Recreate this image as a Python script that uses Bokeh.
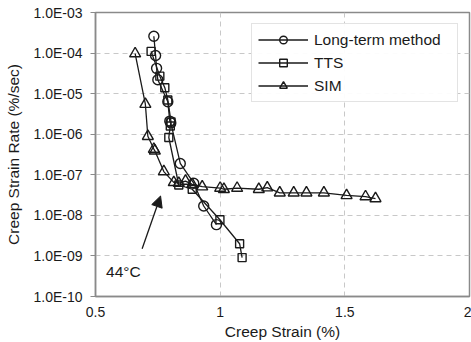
from bokeh.plotting import figure
from bokeh.models import FixedTicker, Arrow, NormalHead, Label, Legend, LegendItem
from bokeh.embed import file_html
from bokeh.resources import INLINE

# Long-term method
lt_x = [0.734, 0.741, 0.745, 0.750, 0.790, 0.798, 0.802, 0.840, 0.894, 0.934, 0.985]
lt_y = [2.6e-4, 8.7e-5, 4.2e-5, 2.2e-5, 6.3e-6, 2.1e-6, 1.9e-6, 1.9e-7, 6.2e-8, 1.7e-8, 5.9e-9]
# TTS
tts_x = [0.723, 0.758, 0.778, 0.790, 0.803, 0.800, 0.794, 0.834, 0.888, 0.999, 1.078, 1.088]
tts_y = [1.1e-4, 2.7e-5, 1.4e-5, 7.0e-6, 2.0e-6, 1.6e-6, 8.3e-7, 5.6e-8, 4.4e-8, 7.8e-9, 2.0e-9, 9.1e-10]
# SIM
sim_x = [0.659, 0.700, 0.710, 0.734, 0.738, 0.774, 0.814, 0.834, 0.861, 0.888, 0.928,
         1.000, 1.015, 1.068, 1.155, 1.189, 1.239, 1.295, 1.346, 1.416, 1.507, 1.583, 1.623]
sim_y = [9.7e-5, 5.5e-6, 8.9e-7, 4.3e-7, 3.9e-7, 1.2e-7, 6.5e-8, 6.2e-8, 7.0e-8, 5.8e-8, 5.1e-8,
         4.7e-8, 4.4e-8, 4.7e-8, 4.4e-8, 4.8e-8, 3.6e-8, 3.6e-8, 3.6e-8, 3.6e-8, 3.1e-8, 2.9e-8, 2.6e-8]

x_ticks = [0.5, 1.0, 1.5, 2.0]
x_labels = ["0.5", "1", "1.5", "2"]
y_ticks = [1e-10, 1e-9, 1e-8, 1e-7, 1e-6, 1e-5, 1e-4, 1e-3]
y_labels = ["1.0E-10", "1.0E-09", "1.0E-08", "1.0E-07", "1.0E-06", "1.0E-05", "1.0E-04", "1.0E-03"]

FONT = "Liberation Sans"
INK = "#1a1a1a"

p = figure(width=471, height=342, y_axis_type="log", x_range=(0.5, 2.0), y_range=(1e-10, 1e-3),
           output_backend="svg", toolbar_location=None,
           min_border_left=95, min_border_right=2, min_border_top=12, min_border_bottom=45)

p.outline_line_color = "#8a8a8a"
p.outline_line_width = 1.5

for ax in (p.xaxis[0], p.yaxis[0]):
    ax.axis_line_color = "#8a8a8a"
    ax.axis_line_width = 1.5
    ax.major_tick_line_color = "#8a8a8a"
    ax.minor_tick_line_color = None
    ax.major_label_text_font = FONT
    ax.major_label_text_font_size = "14px"
    ax.major_label_text_color = INK
    ax.axis_label_text_font = FONT
    ax.axis_label_text_font_size = "15.5px"
    ax.axis_label_text_font_style = "normal"
    ax.axis_label_text_color = INK

p.xaxis.ticker = FixedTicker(ticks=x_ticks)
p.xaxis.major_label_overrides = dict(zip(x_ticks, x_labels))
p.xaxis.major_tick_in = 0
p.xaxis.major_tick_out = 0
p.xaxis.major_label_standoff = 10
p.xaxis.axis_label = "Creep Strain (%)"
p.xaxis.axis_label_standoff = 3

p.yaxis.ticker = FixedTicker(ticks=y_ticks)
p.yaxis.major_label_overrides = dict(zip(y_ticks, y_labels))
p.yaxis.major_tick_in = 0
p.yaxis.major_tick_out = 5
p.yaxis.major_label_standoff = 8
p.yaxis.axis_label = "Creep Strain Rate (%/sec)"
p.yaxis.axis_label_standoff = 8

p.xgrid.ticker = FixedTicker(ticks=[1.0, 1.5])
p.ygrid.ticker = FixedTicker(ticks=y_ticks[1:-1])
for g in (p.xgrid[0], p.ygrid[0]):
    g.grid_line_color = "#c8c8c8"
    g.grid_line_dash = "5 4"
    g.grid_line_width = 1

items = []
specs = [("Long-term method", lt_x, lt_y, "circle", 10),
         ("TTS", tts_x, tts_y, "square", 8),
         ("SIM", sim_x, sim_y, "triangle", 11)]
for name, xs, ys, marker, size in specs:
    ln = p.line(xs, ys, line_color=INK, line_width=1.3)
    sc = p.scatter(xs, ys, marker=marker, size=size, line_color=INK, line_width=1.4,
                   fill_color=None)
    items.append(LegendItem(label=name, renderers=[ln, sc]))

legend = Legend(items=items, location="top_right")
legend.label_text_font = FONT
legend.label_text_font_size = "15.5px"
legend.label_text_color = INK
legend.glyph_width = 50
legend.glyph_height = 19
legend.label_height = 19
legend.label_width = 137
legend.label_standoff = 6
legend.spacing = 4
legend.padding = 6
legend.margin = 11
legend.border_line_color = "#c8c8c8"
legend.border_line_width = 1
legend.background_fill_color = "white"
p.add_layout(legend)

p.add_layout(Arrow(end=NormalHead(size=11, fill_color=INK, line_color=INK),
                   x_start=0.687, y_start=1.5e-9, x_end=0.761, y_end=3.0e-8,
                   line_color=INK, line_width=1.3))
p.add_layout(Label(x=0.612, y=4.1e-10, text="44°C", text_font=FONT, text_font_size="15.5px",
                   text_color=INK, text_align="center", text_baseline="middle"))

open("out.html", "w").write(file_html(p, INLINE))
